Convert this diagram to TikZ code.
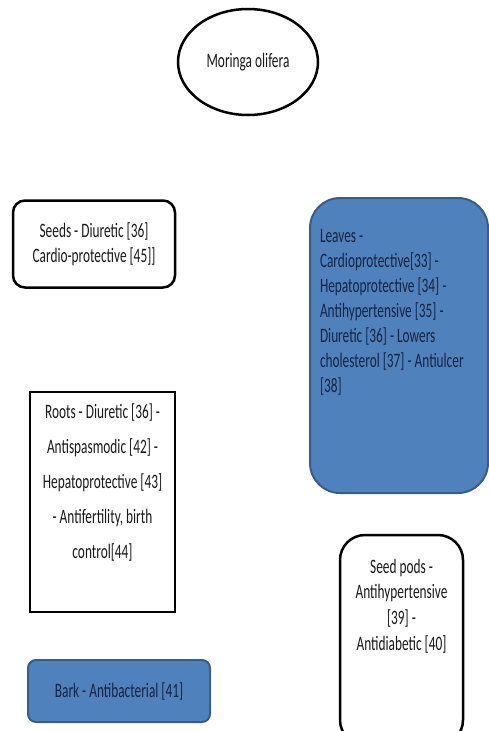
\documentclass[tikz,border=0pt]{standalone}
\usepackage{fontspec}
\setmainfont{Carlito}[FakeStretch=0.65]
\usetikzlibrary{shapes.geometric,positioning}
\definecolor{boxfill}{RGB}{79,129,189}
\definecolor{boxedge}{RGB}{56,93,138}
\definecolor{boxtext}{RGB}{22,36,64}
\tikzset{plainbox/.style={draw=black, line width=2.5pt, fill=white, text=black!90, align=center, inner sep=0pt},
bluebox/.style={draw=boxedge, line width=2pt, fill=boxfill, text=boxtext, inner sep=0pt}}

\begin{document}
\begin{tikzpicture}[x=1pt,y=-1pt,font=\fontsize{20.5}{25}\selectfont]

    \clip (0,0) rectangle (489,731);

    \coordinate (p) at (248,62);
    \coordinate (s) at (94,244);
    \coordinate (r) at (102.5,502);
    \coordinate (l) at (399,345.5);
    \coordinate (d) at (401.5,640);
    \coordinate (b) at (119,691);

    \node[ellipse, draw, line width=2.5pt, minimum width=140pt, minimum height=106pt, text=black!90] (plant) at (p) {Moringa olifera};

    \node[plainbox, rounded corners=12pt, minimum width=162pt, minimum height=87pt] (seeds) at (s) {Seeds - Diuretic [36]\\Cardio-protective [45]]};

    % box first, then the text on it
    \node[plainbox, minimum width=145pt, minimum height=220pt] (rootsbox) at (r) {};
    \node[align=center, inner sep=0pt, text=black!90, font=\fontsize{20.5}{35}\selectfont, below=13pt of rootsbox.north] (roots) {Roots - Diuretic [36] -\\Antispasmodic [42] -\\Hepatoprotective [43]\\- Antifertility, birth\\control[44]};

    \node[bluebox, rounded corners=30pt, minimum width=178pt, minimum height=295pt] (leavesbox) at (l) {};
    \node[align=flush left, text width=158pt, inner sep=0pt, text=boxtext, below=32pt of leavesbox.north] (leaves) {Leaves -\\Cardioprotective[33] -\\Hepatoprotective [34] -\\Antihypertensive [35] -\\Diuretic [36] - Lowers\\cholesterol [37] - Antiulcer\\{[38]}};

    \node[plainbox, rounded corners=25pt, minimum width=123pt, minimum height=210pt] (podsbox) at (d) {};
    \node[align=center, inner sep=0pt, text=black!90, font=\fontsize{20.5}{25.7}\selectfont, below=25pt of podsbox.north] (pods) {Seed pods -\\Antihypertensive\\{[39]} -\\Antidiabetic [40]};

    \node[bluebox, rounded corners=8pt, minimum width=182pt, minimum height=62pt] (bark) at (b) {Bark - Antibacterial [41]};

  \end{tikzpicture}
\end{document}
